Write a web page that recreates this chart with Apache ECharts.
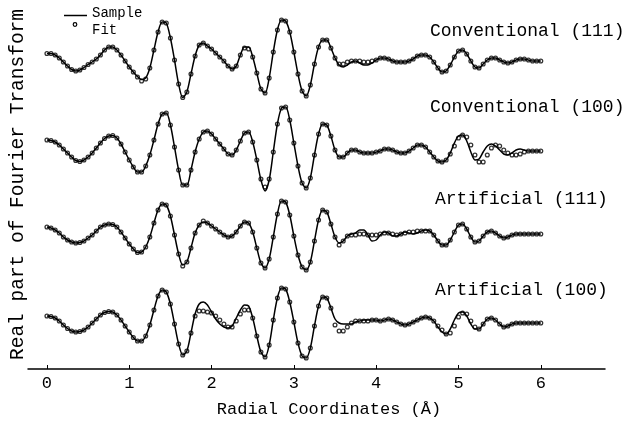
<!DOCTYPE html>
<html>
<head>
<meta charset="utf-8">
<script src="https://cdn.jsdelivr.net/npm/echarts@6/dist/echarts.min.js"></script>
<style>html,body{margin:0;padding:0;background:#fff}#c{width:637px;height:426px}</style>
</head>
<body>
<div id="c"></div>
<script>
// Radial coordinate grid (Å): 0 to 6 in steps of 0.05
const rStep = 0.05;
const tickValues = [0, 1, 2, 3, 4, 5, 6];
const curveNames = ['Conventional (111)', 'Conventional (100)', 'Artificial (111)', 'Artificial (100)'];
const legendNames = ['Sample', 'Fit'];

// Conventional (111)
const conv111Sample = [
  7.5, 7.5, 6, 3, -1, -5, -8.5, -10, -9, -6.5, -3.5, -1, 2, 6, 11, 14, 14, 11, 6, 0,
  -6, -11, -15.5, -18.5, -17, -7, 11, 29, 39, 38, 23, 1, -23, -36.5, -31, -13, 5, 16, 18, 15,
  12, 8, 4, 0, -5, -8, -5, 6, 14, 14, 4, -12, -28, -32, -17, 9, 31, 41, 40, 29,
  9, -13, -30, -35, -24, -3, 14, 21, 21, 13, 3, -4, -6, -4, -1, 0, -2, -4, -4, -2,
  1, 3, 3, 2, 0, -1, -1, -1, 0, 2, 5, 6, 6, 4, -1, -7, -11, -10, -4, 4,
  10, 11, 7, 0, -6, -7, -3, 1, 3, 3, 1, -1, -2, -1, 1, 2, 2, 1, 0, 0, 0
];
const conv111Fit = [
  7.5, 7.5, 6, 3, -1, -5, -8.5, -10, -9, -6.5, -3.5, -1, 2, 6, 11, 14, 14, 11, 6, 0,
  -6, -11, -16, -20, -18, -7, 11, 29, 39, 38, 23, 1, -23, -36.5, -31, -13, 5, 16, 18, 15,
  12, 8, 4, 0, -5, -8, -5, 6, 13, 12, 4, -12, -28, -32, -17, 9, 31, 41, 40, 29,
  9, -13, -30, -35, -24, -3, 14, 21, 21, 13, 3, -3, -3, -1, 0, 0, 0, -1, -1, 0,
  1, 3, 3, 2, 0, -1, -1, -1, 0, 2, 5, 6, 6, 4, -1, -7, -11, -10, -4, 4,
  10, 11, 7, 0, -6, -7, -3, 1, 3, 3, 1, -1, -2, -1, 1, 2, 2, 1, 0, 0, 0
];

// Conventional (100)
const conv100Sample = [
  11, 10.5, 9, 6, 2, -2, -6, -9.5, -10.5, -9, -6, -2, 3, 8, 12.5, 15, 15.5, 13, 7, -1,
  -9, -16, -21, -21, -15, -4, 11, 27, 37, 38, 26, 4, -19, -34, -34, -19, -1, 12, 19, 20,
  17, 12, 7, 2, -3, -4, 1, 10, 18, 19, 9, -9, -29, -40, -29, -1, 27, 43, 44, 31,
  8, -15, -32, -37, -27, -4, 17, 27, 26, 15, 1, -6, -6, -2, 1, 1, -1, -2, -2, -2,
  -1, 0, 2, 2, 1, -1, -2, -2, 0, 3, 6, 6, 4, -1, -6, -10, -11, -9, -2, 8,
  15, 16, 10, -1, -9, -8, -1, 5, 7, 5, 1, -3, -4, -2, 1, 2, 1, 0, 0, 0, 0
];
const conv100Fit = [
  11, 10.5, 9, 6, 2, -2, -6, -9.5, -10.5, -9, -6, -2, 3, 8, 12.5, 15, 15.5, 13, 7, -1,
  -9, -16, -21, -21, -15, -4, 11, 27, 37, 38, 26, 4, -19, -34, -34, -19, -1, 12, 19, 20,
  17, 12, 7, 2, -3, -4, 1, 10, 18, 19, 9, -9, -28, -36, -28, -1, 27, 43, 44, 31,
  8, -15, -32, -37, -27, -4, 17, 27, 26, 15, 1, -6, -6, -2, 1, 1, -1, -2, -2, -2,
  -1, 0, 2, 2, 1, -1, -2, -2, 0, 3, 6, 6, 4, -1, -6, -10, -11, -9, -3, 5,
  13, 16, 14, 6, -4, -11, -11, -4, 3, 6, 5, 1, -2, -4, -4, -3, -1, 0, 0, 0, 0
];

// Artificial (111)
const art111Sample = [
  7, 6, 4, 1, -3, -6, -8, -9, -8.5, -7, -4, -1, 3, 7, 9, 10, 9.5, 7, 2, -4,
  -10, -15, -18.5, -18, -13, -3, 11, 24, 30, 29, 18, -1, -20, -31, -28, -14, 1, 9, 12, 11,
  8, 5, 2, -1, -3, -2, 2, 8, 12, 11, 2, -14, -29, -34, -25, -3, 20, 33, 32, 19,
  -2, -21, -33, -36, -28, -7, 14, 24, 22, 10, -3, -9, -7, -2, 0, 1, 4, 4, -1, -7,
  -6, -1, 2, 1, -2, -2, 0, 2, 1, 0, 1, 3, 4, 3, -1, -7, -11, -11, -6, 2,
  9, 10, 5, -3, -8, -7, -2, 2, 3, 1, -2, -4, -3, -1, 0, 0, 0, 0, 0, 0, 0
];
const art111Fit = [
  7, 6, 4, 1, -3, -6, -8, -9, -8.5, -7, -4, -1, 3, 7, 9, 10, 9.5, 7, 2, -4,
  -10, -15, -18.5, -18, -13, -3, 11, 24, 30, 29, 18, -1, -20, -32, -28, -14, 1, 9, 13, 11,
  8, 5, 2, -1, -3, -2, 2, 8, 12, 11, 2, -14, -29, -34, -25, -3, 20, 33, 32, 19,
  -2, -21, -33, -36, -28, -7, 14, 24, 22, 10, -3, -11, -7, -2, -1, -1, 0, 0, -1, -1,
  -1, 0, 1, 1, 0, -1, 0, 1, 2, 2, 3, 3, 3, 3, -1, -7, -11, -11, -6, 2,
  9, 10, 5, -3, -8, -7, -2, 2, 3, 1, -2, -4, -3, -1, 0, 0, 0, 0, 0, 0, 0
];

// Artificial (100)
const art100Sample = [
  7, 6.5, 5, 2, -2, -5.5, -8, -9, -8.5, -7, -4, 0, 4, 8, 10.5, 11.5, 11, 8, 3, -3,
  -9, -14.5, -18, -18, -13, -2, 13, 27, 33, 31, 19, -1, -21, -32, -28, -10, 9, 19, 21, 18,
  11, 4, -1, -4, -5, -3, 5, 13, 18, 17, 5, -13, -29, -34, -22, 3, 25, 35, 34, 21,
  1, -20, -33, -35, -25, -3, 17, 26, 25, 15, 4, 0, -1, -1, -1, 1, 2, 3, 3, 3,
  3, 2, 3, 4, 3, 1, -1, -2, -1, 1, 3, 5, 6, 5, 2, -4, -9, -11, -6, 3,
  10, 11, 7, -1, -6, -6, -1, 4, 5, 3, -1, -4, -3, -1, 0, 0, 0, 0, 0, 0, 0
];
const art100Fit = [
  7, 6.5, 5, 2, -2, -5.5, -8, -9, -8.5, -7, -4, 0, 4, 8, 10.5, 11.5, 11, 8, 3, -3,
  -9, -14.5, -18, -18, -13, -2, 13, 27, 33, 31, 19, -1, -21, -32, -28, -10, 7, 12, 12, 11,
  10, 7, 3, -1, -4, -4, 2, 9, 13, 13, 5, -13, -29, -34, -22, 3, 25, 35, 34, 21,
  1, -20, -33, -35, -25, -3, 17, 26, 25, 15, -2, -8, -8, -4, 0, 2, 2, 2, 2, 3,
  3, 2, 3, 4, 3, 1, -1, -2, -1, 1, 3, 5, 6, 5, 2, -3, -7, -11, -10, -3,
  6, 10, 9, 2, -4, -6, -1, 4, 5, 3, -1, -4, -3, -1, 0, 0, 0, 0, 0, 0, 0
];

const samples = [conv111Sample, conv100Sample, art111Sample, art100Sample];
const fits = [conv111Fit, conv100Fit, art111Fit, art100Fit];

// vertical offsets used to stack the curves (layout only)
const offsets = [308, 218, 135, 46];
const labelPos = [[430, 31], [430, 107], [435, 199], [435, 290]];

const FONT = '"Liberation Mono", "Courier New", monospace';

function toXY(arr, off) {
  return arr.map((v, i) => [+(i * rStep).toFixed(2), v + off]);
}

const series = [];
for (let k = 0; k < 4; k++) {
  series.push({
    name: legendNames[0], type: 'line', data: toXY(samples[k], offsets[k]),
    symbol: 'none', smooth: 0.3, lineStyle: { color: '#000', width: 1.5 },
    itemStyle: { color: '#000' }, z: 2
  });
  series.push({
    name: legendNames[1], type: 'scatter', data: toXY(fits[k], offsets[k]),
    symbol: 'circle', symbolSize: 3.8,
    itemStyle: { color: 'rgba(255,255,255,0)', borderColor: '#000', borderWidth: 1.3 }, z: 3
  });
}

const chart = echarts.init(document.getElementById('c'));
chart.setOption({
  animation: false,
  backgroundColor: '#fff',
  grid: { left: 28, right: 32, top: 0, bottom: 57, containLabel: false, outerBoundsMode: 'none' },
  xAxis: {
    type: 'value', min: -0.23, max: 6.78,
    axisLine: { show: true, onZero: false, lineStyle: { color: '#000', width: 1.5 } },
    axisTick: { show: true, inside: true, length: 4, customValues: tickValues, lineStyle: { color: '#000', width: 1 } },
    axisLabel: { customValues: tickValues, fontFamily: FONT, fontSize: 17, color: '#000', margin: 6 },
    splitLine: { show: false },
    name: 'Radial Coordinates (Å)', nameLocation: 'middle', nameGap: 32,
    nameTextStyle: { fontFamily: FONT, fontSize: 17, color: '#000', padding: [0, 0, 0, 25] }
  },
  yAxis: {
    type: 'value', min: 0, max: 369,
    axisLine: { show: false }, axisTick: { show: false }, axisLabel: { show: false }, splitLine: { show: false },
    name: 'Real part of Fourier Transform', nameLocation: 'middle', nameGap: 0, nameRotate: 90,
    nameTextStyle: { fontFamily: FONT, fontSize: 19.5, color: '#000' }
  },
  graphic: curveNames.map((t, k) => ({
    type: 'text', x: labelPos[k][0], y: labelPos[k][1],
    style: { text: t, font: '18px ' + FONT, fill: '#000', textAlign: 'left', textVerticalAlign: 'middle' }
  })).concat([
    { type: 'line', shape: { x1: 64, y1: 15.5, x2: 87, y2: 15.5 }, style: { stroke: '#000', lineWidth: 1.5 } },
    { type: 'circle', shape: { cx: 75, cy: 24.5, r: 1.8 }, style: { fill: 'none', stroke: '#000', lineWidth: 1.2 } },
    { type: 'text', x: 92, y: 13.5, style: { text: legendNames[0], font: '14px ' + FONT, fill: '#000', textVerticalAlign: 'middle' } },
    { type: 'text', x: 92, y: 30.5, style: { text: legendNames[1], font: '14px ' + FONT, fill: '#000', textVerticalAlign: 'middle' } }
  ]),
  series: series
});
</script>
</body>
</html>
